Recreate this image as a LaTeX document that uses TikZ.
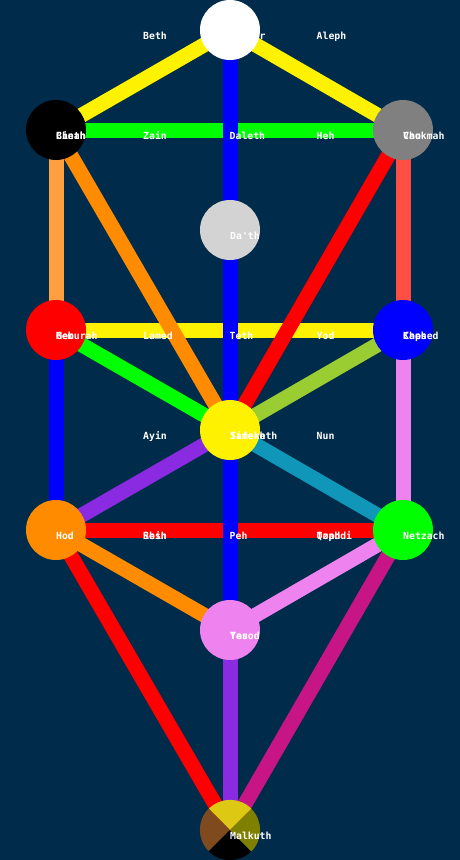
\documentclass[tikz,border=0pt]{standalone}
\usepackage{fontspec}
\setmonofont{DejaVu Sans Mono}
\definecolor{bgc}{HTML}{002B4A}
\definecolor{cheth}{HTML}{FFA040}
\definecolor{vau}{HTML}{FF4F44}
\definecolor{dorange}{HTML}{FF8C00}
\definecolor{ygreen}{HTML}{9ACD32}
\definecolor{viol}{HTML}{EE82EE}
\definecolor{nun}{HTML}{1096B8}
\definecolor{bviol}{HTML}{8A2BE2}
\definecolor{mvred}{HTML}{C71585}
\definecolor{lgray}{HTML}{D3D3D3}
\definecolor{citrine}{HTML}{DDC814}
\definecolor{russet}{HTML}{7F4A1E}
\definecolor{olivec}{HTML}{808000}
\pgfdeclarelayer{background}
\pgfsetlayers{background,main}
\begin{document}
\begin{tikzpicture}[x=1pt,y=-1pt,
  seph/.style={circle, minimum size=60pt, inner sep=0pt, draw=none},
  pth/.style={line width=15pt},
  lbl/.style={anchor=base west, inner sep=0pt, text=white, font=\ttfamily\bfseries\fontsize{9.8}{10}\selectfont}]
\useasboundingbox (0,0) rectangle (460,860);
% sephiroth
\node[seph, fill=white] (kether) at (230,30) {};
\node[seph, fill=black] (binah) at (56,130) {};
\node[seph, fill=gray] (chokmah) at (403,130) {};
\node[seph, fill=lgray] (daath) at (230,230) {};
\node[seph, fill=red] (geburah) at (56,330) {};
\node[seph, fill=blue] (chesed) at (403,330) {};
\node[seph, fill=yellow] (tiphareth) at (230,430) {};
\node[seph, fill=dorange] (hod) at (56,530) {};
\node[seph, fill=green] (netzach) at (403,530) {};
\node[seph, fill=viol] (yesod) at (230,630) {};
\node[seph] (malkuth) at (230,830) {};
\fill[citrine] (malkuth.center) -- (malkuth.north east) arc[start angle=45, end angle=135, radius=30pt] -- cycle;
\fill[russet] (malkuth.center) -- (malkuth.north west) arc[start angle=135, end angle=225, radius=30pt] -- cycle;
\fill[black] (malkuth.center) -- (malkuth.south west) arc[start angle=225, end angle=315, radius=30pt] -- cycle;
\fill[olivec] (malkuth.center) -- (malkuth.south east) arc[start angle=315, end angle=405, radius=30pt] -- cycle;
% paths
\begin{pgfonlayer}{background}
\fill[bgc] (0,0) rectangle (460,860);
\draw[pth, green] (chokmah.center) -- (binah.center);
\draw[pth, yellow] (chesed.center) -- (geburah.center);
\draw[pth, red] (netzach.center) -- (hod.center);
\draw[pth, yellow] (kether.center) -- (chokmah.center);
\draw[pth, yellow] (kether.center) -- (binah.center);
\draw[pth, blue] (kether.center) -- (tiphareth.center);
\draw[pth, red] (chokmah.center) -- (tiphareth.center);
\draw[pth, vau] (chokmah.center) -- (chesed.center);
\draw[pth, dorange] (binah.center) -- (tiphareth.center);
\draw[pth, cheth] (binah.center) -- (geburah.center);
\draw[pth, ygreen] (chesed.center) -- (tiphareth.center);
\draw[pth, viol] (chesed.center) -- (netzach.center);
\draw[pth, green] (geburah.center) -- (tiphareth.center);
\draw[pth, blue] (geburah.center) -- (hod.center);
\draw[pth, nun] (tiphareth.center) -- (netzach.center);
\draw[pth, blue] (tiphareth.center) -- (yesod.center);
\draw[pth, bviol] (tiphareth.center) -- (hod.center);
\draw[pth, viol] (netzach.center) -- (yesod.center);
\draw[pth, mvred] (netzach.center) -- (malkuth.center);
\draw[pth, dorange] (hod.center) -- (yesod.center);
\draw[pth, red] (hod.center) -- (malkuth.center);
\draw[pth, bviol] (yesod.center) -- (malkuth.center);
\end{pgfonlayer}
% path labels
\node[lbl] (laleph) at (316.5,39) {Aleph};
\node[lbl] (lbeth) at (143,39) {Beth};
\node[lbl] (lgimel) at (230,39) {Gimel};
\node[lbl] (ldaleth) at (229.5,139) {Daleth};
\node[lbl] (lheh) at (316.5,139) {Heh};
\node[lbl] (lvau) at (403,139) {Vau};
\node[lbl] (lzain) at (143,139) {Zain};
\node[lbl] (lcheth) at (56,139) {Cheth};
\node[lbl] (lteth) at (229.5,339) {Teth};
\node[lbl] (lyod) at (316.5,339) {Yod};
\node[lbl] (lkaph) at (403,339) {Kaph};
\node[lbl] (llamed) at (143,339) {Lamed};
\node[lbl] (lmem) at (56,339) {Mem};
\node[lbl] (lnun) at (316.5,439) {Nun};
\node[lbl] (lsamekh) at (230,439) {Samekh};
\node[lbl] (layin) at (143,439) {Ayin};
\node[lbl] (lpeh) at (229.5,539) {Peh};
\node[lbl] (ltzaddi) at (316.5,539) {Tzaddi};
\node[lbl] (lqoph) at (316.5,539) {Qoph};
\node[lbl] (lresh) at (143,539) {Resh};
\node[lbl] (lshin) at (143,539) {Shin};
\node[lbl] (ltau) at (230,639) {Tau};
% sephiroth labels
\node[lbl] (tkether) at (230,39) {Kether};
\node[lbl] (tbinah) at (56,139) {Binah};
\node[lbl] (tchokmah) at (403,139) {Chokmah};
\node[lbl] (tdaath) at (230,239) {Da'th};
\node[lbl] (tgeburah) at (56,339) {Geburah};
\node[lbl] (tchesed) at (403,339) {Chesed};
\node[lbl] (ttiphareth) at (230,439) {Tifereth};
\node[lbl] (thod) at (56,539) {Hod};
\node[lbl] (tnetzach) at (403,539) {Netzach};
\node[lbl] (tyesod) at (230,639) {Yesod};
\node[lbl] (tmalkuth) at (230,839) {Malkuth};
\end{tikzpicture}
\end{document}
